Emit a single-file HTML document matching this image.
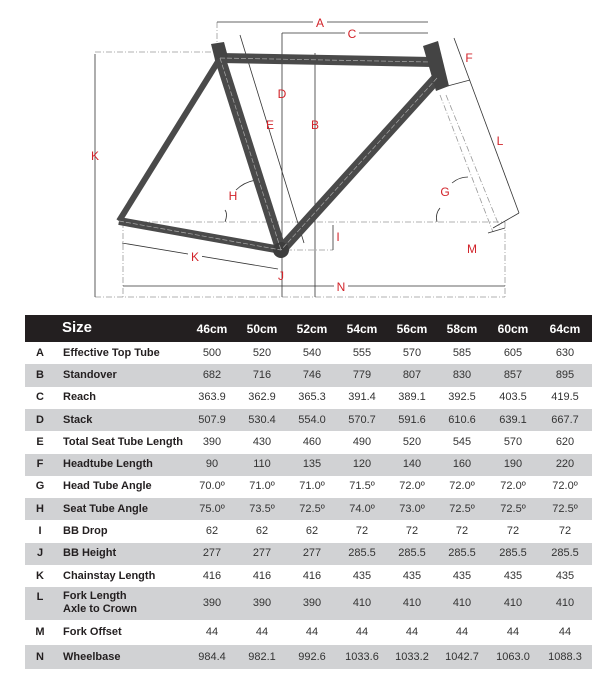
<!DOCTYPE html>
<html><head><meta charset="utf-8"><style>
body{margin:0;width:600px;height:683px;background:#fff;position:relative;overflow:hidden;font-family:"Liberation Sans",sans-serif}
svg{position:absolute;left:0;top:0}
.t{position:absolute;left:25px;width:567px}
.hd{top:315px;height:27px;background:#231f20;color:#fff;font-weight:bold}
.r{position:absolute;left:25px;width:567px;font-size:11px;font-weight:bold;color:#231f20}
.g{background:#d1d2d4}
.c{position:absolute;width:50px;text-align:center;top:0}
.v{font-weight:normal;color:#333}
</style></head><body>
<svg width="600" height="310" viewBox="0 0 600 310">
<g stroke="#999" stroke-width="0.8" fill="none" stroke-dasharray="6 2 1 2">
<line x1="95" y1="52" x2="213" y2="52"/>
<line x1="95" y1="297" x2="505" y2="297"/>
<line x1="119" y1="222" x2="505" y2="222"/>
<line x1="123" y1="222" x2="123" y2="297"/>
<line x1="505" y1="222" x2="505" y2="297"/>
<line x1="217" y1="22" x2="217" y2="44"/>
<line x1="440" y1="95" x2="493" y2="232"/>
<line x1="446" y1="95" x2="500" y2="228"/>
<line x1="286" y1="250" x2="333" y2="250"/>
</g>
<g stroke="#333" stroke-width="0.8" fill="none">
<line x1="217" y1="22" x2="428" y2="22"/>
<line x1="282" y1="33" x2="428" y2="33"/>
<line x1="95" y1="54" x2="95" y2="297"/>
<line x1="282" y1="33" x2="282" y2="297"/>
<line x1="315" y1="53" x2="315" y2="297"/>
<line x1="240" y1="35" x2="304" y2="243"/>
<line x1="454" y1="38" x2="519" y2="213"/>
<line x1="519" y1="213" x2="493" y2="228"/>
<line x1="333" y1="225" x2="333" y2="250"/>
<line x1="123" y1="286" x2="505" y2="286"/>
<line x1="122" y1="243" x2="278" y2="269"/>
<line x1="488" y1="233" x2="505" y2="228"/>
<path d="M225 222 q3 -8 0 -12"/><path d="M236 190 q8 -8 20 -10"/>
<path d="M437 222 q-2 -8 3 -14"/><path d="M452 183 q7 -6 16 -6"/>
<line x1="440" y1="88" x2="470" y2="80"/>
</g>
<g stroke-linecap="butt">
<line x1="119" y1="221" x2="281" y2="250" stroke="#4a4a4a" stroke-width="8"/>
<line x1="219" y1="60" x2="119" y2="221" stroke="#4a4a4a" stroke-width="6"/>
<line x1="220" y1="58" x2="281" y2="250" stroke="#4a4a4a" stroke-width="11"/>
<line x1="437" y1="78" x2="281" y2="250" stroke="#4a4a4a" stroke-width="11"/>
<line x1="220" y1="58" x2="432" y2="62" stroke="#4a4a4a" stroke-width="10"/>
<polygon points="211,44 224,42 228,57 215,60" fill="#444"/>
<polygon points="423,46 438,41 449,86 436,91" fill="#444"/>
<circle cx="281" cy="250" r="8" fill="#3d3d3d"/>
</g>
<g stroke="#aaa" stroke-width="0.7" stroke-dasharray="5 2" fill="none">
<line x1="220" y1="58" x2="430" y2="62"/>
<line x1="220" y1="58" x2="281" y2="250"/>
<line x1="437" y1="78" x2="281" y2="250"/>
<line x1="119" y1="221" x2="281" y2="250"/>
</g>
<g fill="#d2232a" font-size="12" text-anchor="middle" font-family="Liberation Sans,sans-serif">
<rect x="313" y="16" width="14" height="12" fill="#fff"/><text x="320" y="27">A</text>
<rect x="345" y="27" width="14" height="12" fill="#fff"/><text x="352" y="38">C</text>
<text x="95" y="160">K</text><text x="282" y="98">D</text><text x="315" y="129">B</text>
<text x="270" y="129">E</text><text x="469" y="62">F</text><text x="500" y="145">L</text>
<text x="445" y="196">G</text><text x="233" y="200">H</text><text x="338" y="241">I</text>
<text x="281" y="280">J</text><rect x="188" y="249" width="14" height="12" fill="#fff"/><text x="195" y="261">K</text>
<text x="472" y="253">M</text><rect x="334" y="280" width="14" height="12" fill="#fff"/><text x="341" y="291">N</text>
</g>
</svg>

<div class="t hd" style="position:absolute">
<span style="position:absolute;left:37px;top:4px;font-size:15px">Size</span>
<span class="c" style="left:162px;top:7px;font-size:12px">46cm</span>
<span class="c" style="left:212px;top:7px;font-size:12px">50cm</span>
<span class="c" style="left:262px;top:7px;font-size:12px">52cm</span>
<span class="c" style="left:312px;top:7px;font-size:12px">54cm</span>
<span class="c" style="left:362px;top:7px;font-size:12px">56cm</span>
<span class="c" style="left:412px;top:7px;font-size:12px">58cm</span>
<span class="c" style="left:463px;top:7px;font-size:12px">60cm</span>
<span class="c" style="left:515px;top:7px;font-size:12px">64cm</span>
</div>
<div id="rows"></div>
<script>
var d=[["A","Effective Top Tube","500 520 540 555 570 585 605 630"],
["B","Standover","682 716 746 779 807 830 857 895"],
["C","Reach","363.9 362.9 365.3 391.4 389.1 392.5 403.5 419.5"],
["D","Stack","507.9 530.4 554.0 570.7 591.6 610.6 639.1 667.7"],
["E","Total Seat Tube Length","390 430 460 490 520 545 570 620"],
["F","Headtube Length","90 110 135 120 140 160 190 220"],
["G","Head Tube Angle","70.0º 71.0º 71.0º 71.5º 72.0º 72.0º 72.0º 72.0º"],
["H","Seat Tube Angle","75.0º 73.5º 72.5º 74.0º 73.0º 72.5º 72.5º 72.5º"],
["I","BB Drop","62 62 62 72 72 72 72 72"],
["J","BB Height","277 277 277 285.5 285.5 285.5 285.5 285.5"],
["K","Chainstay Length","416 416 416 435 435 435 435 435"],
["L","Fork Length<br>Axle to Crown","390 390 390 410 410 410 410 410"],
["M","Fork Offset","44 44 44 44 44 44 44 44"],
["N","Wheelbase","984.4 982.1 992.6 1033.6 1033.2 1042.7 1063.0 1088.3"]];
var tops=[342,364.3,386.6,408.9,431.2,453.5,475.8,498.1,520.4,542.7,565,587,620,645],
hs=[22.3,22.3,22.3,22.3,22.3,22.3,22.3,22.3,22.3,22.3,22,33,25,24];
var L=[162,212,262,312,362,412,463,515],h="";
d.forEach(function(r,i){var H=hs[i],ty=(H-13)/2,two=i==11;
h+='<div class="r'+(i%2?' g':'')+'" style="top:'+tops[i]+'px;height:'+H+'px">';
h+='<span class="c" style="left:-10px;width:50px;top:'+(two?4:ty)+'px">'+r[0]+'</span>';
h+='<span style="position:absolute;left:38px;top:'+(two?3:ty)+'px;line-height:'+(two?'13px':'normal')+'">'+r[1]+'</span>';
r[2].split(" ").forEach(function(v,j){h+='<span class="c v" style="left:'+L[j]+'px;top:'+ty+'px">'+v+'</span>'});
h+='</div>'});
document.getElementById("rows").innerHTML=h;
</script>
</body></html>
